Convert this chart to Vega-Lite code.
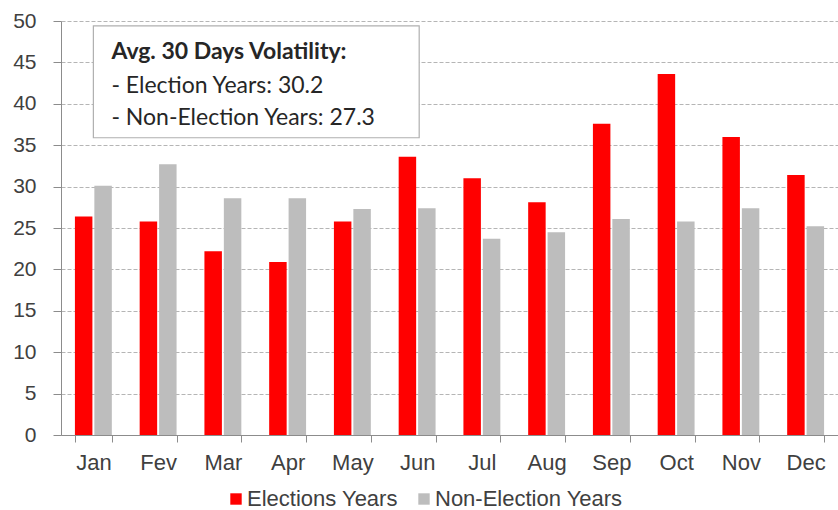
{
  "$schema": "https://vega.github.io/schema/vega-lite/v6.json",
  "width": 838,
  "height": 510,
  "autosize": {"type": "fit", "contains": "padding"},
  "padding": {"left": 12, "top": 10, "right": 0, "bottom": 37},
  "background": "white",
  "config": {"view": {"stroke": null}, "font": "Liberation Sans"},
  "datasets": {
    "vol": [
      {"month": "Jan", "series": "Elections Years", "value": 26.4},
      {"month": "Jan", "series": "Non-Election Years", "value": 30.1},
      {"month": "Fev", "series": "Elections Years", "value": 25.8},
      {"month": "Fev", "series": "Non-Election Years", "value": 32.7},
      {"month": "Mar", "series": "Elections Years", "value": 22.2},
      {"month": "Mar", "series": "Non-Election Years", "value": 28.6},
      {"month": "Apr", "series": "Elections Years", "value": 20.9},
      {"month": "Apr", "series": "Non-Election Years", "value": 28.6},
      {"month": "May", "series": "Elections Years", "value": 25.8},
      {"month": "May", "series": "Non-Election Years", "value": 27.3},
      {"month": "Jun", "series": "Elections Years", "value": 33.6},
      {"month": "Jun", "series": "Non-Election Years", "value": 27.4},
      {"month": "Jul", "series": "Elections Years", "value": 31.0},
      {"month": "Jul", "series": "Non-Election Years", "value": 23.7},
      {"month": "Aug", "series": "Elections Years", "value": 28.1},
      {"month": "Aug", "series": "Non-Election Years", "value": 24.5},
      {"month": "Sep", "series": "Elections Years", "value": 37.6},
      {"month": "Sep", "series": "Non-Election Years", "value": 26.1},
      {"month": "Oct", "series": "Elections Years", "value": 43.6},
      {"month": "Oct", "series": "Non-Election Years", "value": 25.8},
      {"month": "Nov", "series": "Elections Years", "value": 36.0},
      {"month": "Nov", "series": "Non-Election Years", "value": 27.4},
      {"month": "Dec", "series": "Elections Years", "value": 31.4},
      {"month": "Dec", "series": "Non-Election Years", "value": 25.2}
    ]
  },
  "layer": [
    {
      "data": {"name": "vol"},
      "mark": {"type": "bar"},
      "encoding": {
        "x": {
          "field": "month",
          "type": "nominal",
          "scale": {
            "domain": ["Jan", "Fev", "Mar", "Apr", "May", "Jun", "Jul", "Aug", "Sep", "Oct", "Nov", "Dec"],
            "paddingInner": 0.43,
            "paddingOuter": 0.215
          },
          "axis": {
            "title": null,
            "labelAngle": 0,
            "tickBand": "extent",
            "labelFont": "Liberation Sans",
            "labelFontSize": 22,
            "labelColor": "#404040",
            "tickSize": 7,
            "tickColor": "#8c8c8c",
            "domainColor": "#8c8c8c",
            "labelPadding": 10,
            "grid": false
          }
        },
        "y": {
          "field": "value",
          "type": "quantitative",
          "scale": {"domain": [0, 50], "nice": false},
          "axis": {
            "title": null,
            "values": [0, 5, 10, 15, 20, 25, 30, 35, 40, 45, 50],
            "grid": true,
            "gridDash": [4, 2],
            "gridColor": "#b5b5b5",
            "labelFont": "Liberation Sans",
            "labelFontSize": 21,
            "labelColor": "#404040",
            "tickSize": 8,
            "tickColor": "#8c8c8c",
            "domainColor": "#8c8c8c",
            "labelPadding": 17
          }
        },
        "xOffset": {
          "field": "series",
          "type": "nominal",
          "sort": ["Elections Years", "Non-Election Years"],
          "scale": {"paddingInner": 0.1}
        },
        "color": {
          "field": "series",
          "type": "nominal",
          "scale": {"domain": ["Elections Years", "Non-Election Years"], "range": ["#FF0000", "#BDBDBD"]},
          "legend": {
            "orient": "none",
            "legendX": 164,
            "legendY": 467,
            "direction": "horizontal",
            "title": null,
            "labelFont": "Liberation Sans",
            "labelFontSize": 22,
            "labelLimit": 400,
            "labelColor": "#404040",
            "symbolType": "square",
            "symbolSize": 130,
            "symbolStrokeWidth": 0,
            "labelOffset": 0,
            "columnPadding": 15
          }
        }
      }
    },
    {
      "data": {"values": [{}]},
      "mark": {"type": "rect", "fill": "white", "stroke": "#b0b0b0", "strokeWidth": 1.2},
      "encoding": {
        "x": {"datum": "Jan", "type": "nominal", "bandPosition": 0.5},
        "x2": {"datum": "Jun", "bandPosition": 0.556},
        "y": {"datum": 49.4, "type": "quantitative"},
        "y2": {"datum": 35.9}
      }
    },
    {
      "data": {"values": [{}]},
      "mark": {"type": "text", "text": "Avg. 30 Days Volatility:", "font": "Lato", "fontSize": 23, "fontWeight": "bold", "align": "left", "baseline": "alphabetic", "dx": 18, "color": "#262626"},
      "encoding": {
        "x": {"datum": "Jan", "type": "nominal"},
        "y": {"datum": 45.4, "type": "quantitative"}
      }
    },
    {
      "data": {"values": [{}]},
      "mark": {"type": "text", "text": "- Election Years: 30.2", "font": "Lato", "fontSize": 23, "align": "left", "baseline": "alphabetic", "dx": 18, "color": "#262626"},
      "encoding": {
        "x": {"datum": "Jan", "type": "nominal"},
        "y": {"datum": 41.3, "type": "quantitative"}
      }
    },
    {
      "data": {"values": [{}]},
      "mark": {"type": "text", "text": "- Non-Election Years: 27.3", "font": "Lato", "fontSize": 23, "align": "left", "baseline": "alphabetic", "dx": 18, "color": "#262626"},
      "encoding": {
        "x": {"datum": "Jan", "type": "nominal"},
        "y": {"datum": 37.5, "type": "quantitative"}
      }
    }
  ]
}
